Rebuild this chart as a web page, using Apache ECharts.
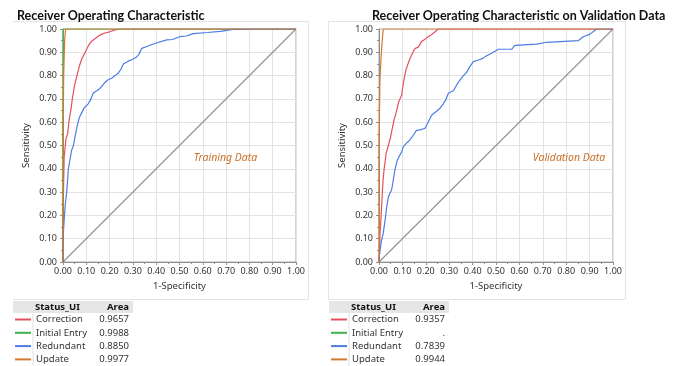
<!DOCTYPE html>
<html>
<head>
<meta charset="utf-8">
<script src="https://cdn.jsdelivr.net/npm/echarts@6/dist/echarts.min.js"></script>
<style>
  html, body { margin: 0; padding: 0; background: #fff; }
  #chart { width: 678px; height: 366px; }
</style>
</head>
<body>
<div id="chart"></div>
<script>
// ROC data: [1-Specificity, Sensitivity]
const statusNames = ['Correction', 'Initial Entry', 'Redundant', 'Update']
const statusColors = ['#e5505f', '#3fb24a', '#4c7be6', '#d8792c']
const trainArea = ['0.9657', '0.9988', '0.8850', '0.9977']
const validArea = ['0.9357', '.', '0.7839', '0.9944']
const axisTicks = [0, 0.1, 0.2, 0.3, 0.4, 0.5, 0.6, 0.7, 0.8, 0.9, 1]
const diagonal = [[0, 0], [1, 1]]

const trainCorrection = [[0,0],[0,0.20],[0.003,0.35],[0.005,0.45],[0.01,0.50],[0.013,0.53],[0.02,0.55],[0.025,0.60],[0.03,0.63],[0.035,0.66],[0.04,0.70],[0.05,0.76],[0.06,0.80],[0.07,0.84],[0.08,0.87],[0.09,0.89],[0.10,0.91],[0.11,0.93],[0.12,0.945],[0.14,0.96],[0.16,0.975],[0.18,0.983],[0.20,0.988],[0.22,0.995],[0.24,1.0],[1,1]]
const trainInitial = [[0,0],[0,0.99],[0.003,1],[1,1]]
const trainRedundant = [[0,0],[0,0.10],[0.005,0.18],[0.01,0.25],[0.016,0.30],[0.023,0.40],[0.03,0.44],[0.037,0.48],[0.045,0.50],[0.052,0.54],[0.06,0.58],[0.07,0.62],[0.08,0.64],[0.09,0.66],[0.109,0.68],[0.12,0.70],[0.13,0.725],[0.145,0.735],[0.159,0.745],[0.175,0.765],[0.19,0.78],[0.21,0.79],[0.237,0.81],[0.25,0.83],[0.259,0.85],[0.28,0.862],[0.30,0.87],[0.316,0.88],[0.325,0.89],[0.338,0.917],[0.36,0.925],[0.373,0.93],[0.40,0.94],[0.445,0.953],[0.47,0.955],[0.50,0.967],[0.53,0.97],[0.559,0.98],[0.62,0.985],[0.674,0.99],[0.73,0.998],[0.86,1.0],[1,1]]
const trainUpdate = [[0,0],[0,0.55],[0.003,0.8],[0.007,0.95],[0.011,1.0],[1,1]]

const validCorrection = [[0,0],[0.003,0.06],[0.004,0.12],[0.008,0.18],[0.012,0.25],[0.015,0.31],[0.018,0.36],[0.022,0.40],[0.026,0.43],[0.03,0.465],[0.04,0.50],[0.048,0.53],[0.054,0.56],[0.06,0.59],[0.064,0.61],[0.07,0.63],[0.076,0.652],[0.085,0.69],[0.092,0.705],[0.097,0.717],[0.104,0.767],[0.11,0.80],[0.115,0.824],[0.122,0.845],[0.13,0.867],[0.14,0.89],[0.147,0.905],[0.155,0.917],[0.168,0.922],[0.175,0.93],[0.182,0.946],[0.195,0.955],[0.204,0.962],[0.215,0.97],[0.225,0.976],[0.24,0.988],[0.253,1.0],[1,1]]
const validInitial = []
const validRedundant = [[0,0],[0.002,0.03],[0.004,0.05],[0.011,0.094],[0.018,0.123],[0.026,0.18],[0.033,0.237],[0.04,0.28],[0.047,0.285],[0.054,0.31],[0.061,0.352],[0.068,0.395],[0.078,0.437],[0.09,0.46],[0.097,0.473],[0.104,0.495],[0.118,0.51],[0.132,0.524],[0.147,0.545],[0.16,0.565],[0.175,0.567],[0.197,0.574],[0.211,0.602],[0.225,0.63],[0.247,0.648],[0.261,0.66],[0.275,0.68],[0.285,0.695],[0.297,0.725],[0.318,0.735],[0.332,0.76],[0.345,0.78],[0.361,0.80],[0.375,0.815],[0.389,0.84],[0.403,0.86],[0.425,0.867],[0.445,0.875],[0.46,0.885],[0.481,0.896],[0.51,0.913],[0.567,0.913],[0.58,0.93],[0.674,0.935],[0.716,0.943],[0.851,0.95],[0.873,0.967],[0.902,0.978],[0.93,1.0],[1,1]]
const validUpdate = [[0,0],[0,0.5],[0.004,0.78],[0.01,0.9],[0.018,1.0],[1,1]]

const trainCurves = [trainCorrection, trainInitial, trainRedundant, trainUpdate]
const validCurves = [validCorrection, validInitial, validRedundant, validUpdate]

const FONT = "'Noto Sans', sans-serif"
const TEXT = '#333'

const chart = echarts.init(document.getElementById('chart'))

const makeAxis = (idx, isX) => ({
  type: 'value',
  gridIndex: idx,
  min: 0,
  max: 1,
  interval: 0.1,
  name: isX ? '1-Specificity' : 'Sensitivity',
  nameLocation: 'middle',
  nameGap: isX ? 17 : 32,
  nameTextStyle: { color: TEXT, fontFamily: FONT, fontSize: 9.5 },
  axisLine: { show: true, lineStyle: { color: '#909090' } },
  axisTick: { show: true, length: 3, lineStyle: { color: '#909090' } },
  minorTick: { show: true, splitNumber: 2, length: 2, lineStyle: { color: '#909090' } },
  splitLine: { show: true, lineStyle: { color: '#e3e3e3' } },
  axisLabel: {
    color: TEXT, fontFamily: FONT, fontSize: 9, margin: isX ? 5 : 6,
    formatter: v => axisTicks.includes(Math.round(v * 10) / 10) ? v.toFixed(2) : ''
  }
})

const series = []
;[trainCurves, validCurves].forEach((curves, g) => {
  series.push({
    type: 'line', xAxisIndex: g, yAxisIndex: g, data: diagonal, showSymbol: false,
    lineStyle: { color: '#959595', width: 1.2 }, silent: true
  })
  curves.forEach((d, i) => {
    series.push({
      name: statusNames[i], type: 'line', xAxisIndex: g, yAxisIndex: g, data: d,
      showSymbol: false, lineStyle: { color: statusColors[i], width: 1.2 }
    })
  })
})

// status / area tables under each plot
const tableGraphic = (x0, areas) => {
  const els = [
    { type: 'rect', shape: { x: x0, y: 301, width: 120, height: 12 }, style: { fill: '#e6e6e6' } },
    { type: 'text', x: x0 + 22, y: 307, style: { text: 'Status_UI', fill: '#111', font: `bold 9.5px ${FONT}`, verticalAlign: 'middle' } },
    { type: 'text', x: x0 + 116, y: 307, style: { text: 'Area', fill: '#111', font: `bold 9.5px ${FONT}`, align: 'right', verticalAlign: 'middle' } },
    { type: 'line', shape: { x1: x0 + 20, y1: 313, x2: x0 + 20, y2: 366 }, style: { stroke: '#e0e0e0', lineWidth: 1 } }
  ]
  statusNames.forEach((n, i) => {
    const y = 319.5 + i * 13.3
    els.push({ type: 'line', shape: { x1: x0 + 2, y1: y, x2: x0 + 18, y2: y }, style: { stroke: statusColors[i], lineWidth: 2 } })
    els.push({ type: 'text', x: x0 + 23, y: y, style: { text: n, fill: TEXT, font: `9.5px ${FONT}`, verticalAlign: 'middle' } })
    els.push({ type: 'text', x: x0 + 116, y: y, style: { text: areas[i], fill: TEXT, font: `9.5px ${FONT}`, align: 'right', verticalAlign: 'middle' } })
  })
  return els
}

const frame = { stroke: '#e4e4e4', lineWidth: 1 }

const option = {
  animation: false,
  backgroundColor: '#fff',
  title: [
    { text: 'Receiver Operating Characteristic', left: 12, top: 4, textStyle: { fontFamily: 'Lato', fontWeight: 'bold', fontSize: 12.5, color: '#111' } },
    { text: 'Receiver Operating Characteristic on Validation Data', left: 367, top: 4, textStyle: { fontFamily: 'Lato', fontWeight: 'bold', fontSize: 12.5, color: '#111' } }
  ],
  grid: [
    { left: 63, top: 29, width: 233, height: 233, show: true, borderColor: '#a8a8a8', borderWidth: 1 },
    { left: 379, top: 29, width: 234, height: 233, show: true, borderColor: '#a8a8a8', borderWidth: 1 }
  ],
  xAxis: [makeAxis(0, true), makeAxis(1, true)],
  yAxis: [makeAxis(0, false), makeAxis(1, false)],
  series,
  graphic: [
    { type: 'line', shape: { x1: 13, y1: 21.5, x2: 308.5, y2: 21.5 }, style: frame },
    { type: 'line', shape: { x1: 308.5, y1: 21.5, x2: 308.5, y2: 299.5 }, style: frame },
    { type: 'line', shape: { x1: 13, y1: 299.5, x2: 308.5, y2: 299.5 }, style: frame },
    { type: 'rect', shape: { x: 328.5, y: 21.5, width: 297, height: 278 }, style: { fill: 'none', stroke: '#e4e4e4', lineWidth: 1 } },
    { type: 'text', z: 100, x: 225.5, y: 158, style: { text: 'Training Data', fill: '#c8702a', font: `italic 10.5px ${FONT}`, align: 'center', verticalAlign: 'middle' } },
    { type: 'text', z: 100, x: 569, y: 158, style: { text: 'Validation Data', fill: '#c8702a', font: `italic 10.5px ${FONT}`, align: 'center', verticalAlign: 'middle' } },
    ...tableGraphic(13, trainArea),
    ...tableGraphic(329, validArea)
  ]
}

chart.setOption(option)
</script>
</body>
</html>
